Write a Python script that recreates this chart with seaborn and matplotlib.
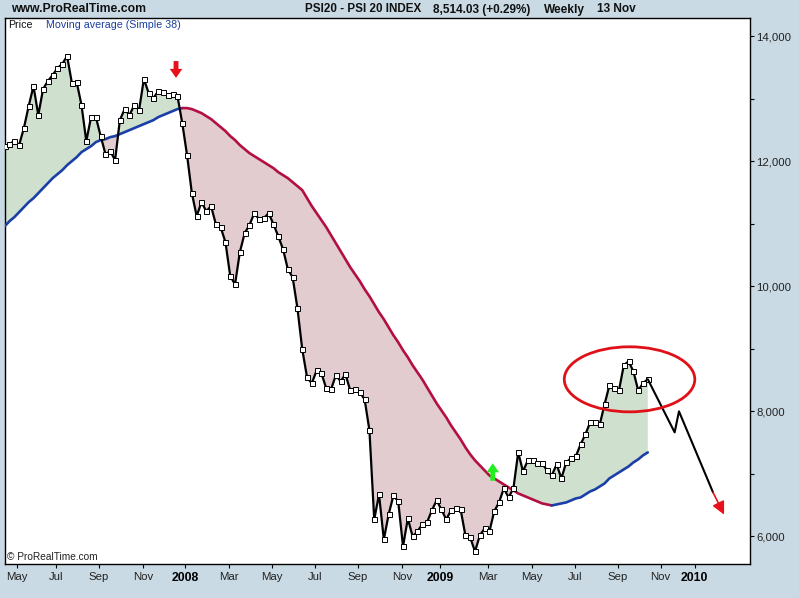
import numpy as np
import matplotlib
matplotlib.use('Agg')
import matplotlib.pyplot as plt
import seaborn as sns
from matplotlib.patches import Ellipse

# weekly closes
price = [12240, 12272, 12320, 12256, 12528, 12880, 13200, 12736, 13152, 13280,
         13376, 13488, 13552, 13680, 13248, 13264, 12896, 12320, 12704, 12704,
         12400, 12112, 12160, 12016, 12656, 12832, 12736, 12896, 12816, 13312,
         13088, 13008, 13120, 13104, 13056, 13072, 13040, 12608, 12096, 11488,
         11120, 11344, 11200, 11280, 10992, 10944, 10704, 10160, 10032, 10544,
         10848, 10976, 11168, 11072, 11088, 11168, 10992, 10800, 10592, 10272,
         10144, 9648, 8992, 8544, 8448, 8656, 8608, 8368, 8352, 8576,
         8480, 8592, 8336, 8352, 8304, 8192, 7696, 6272, 6672, 5952,
         6352, 6656, 6560, 5840, 6288, 6000, 6080, 6192, 6224, 6416,
         6576, 6432, 6272, 6416, 6448, 6432, 6016, 5984, 5760, 6016,
         6128, 6080, 6400, 6544, 6768, 6624, 6768, 7344, 7040, 7216,
         7216, 7168, 7168, 7056, 6976, 7152, 6928, 7184, 7248, 7280,
         7472, 7632, 7824, 7824, 7792, 8112, 8416, 8368, 8336, 8736,
         8800, 8640, 8336, 8448, 8514]

# simple 38 moving average
moving_avg = [10960, 11040, 11104, 11184, 11264, 11344, 11408, 11488, 11568, 11648,
              11728, 11792, 11856, 11936, 12000, 12064, 12144, 12192, 12240, 12304,
              12336, 12352, 12384, 12400, 12432, 12464, 12496, 12528, 12560, 12592,
              12624, 12656, 12704, 12736, 12768, 12800, 12832, 12848, 12848, 12832,
              12800, 12768, 12720, 12672, 12608, 12544, 12480, 12400, 12336, 12256,
              12192, 12128, 12080, 12032, 11984, 11936, 11888, 11824, 11776, 11728,
              11664, 11600, 11536, 11408, 11280, 11168, 11056, 10944, 10816, 10688,
              10560, 10432, 10304, 10192, 10080, 9952, 9840, 9712, 9584, 9472,
              9344, 9216, 9104, 8976, 8864, 8736, 8624, 8512, 8384, 8256,
              8128, 8016, 7904, 7776, 7664, 7552, 7424, 7312, 7216, 7136,
              7056, 6976, 6928, 6880, 6832, 6784, 6736, 6688, 6656, 6624,
              6592, 6560, 6528, 6512, 6496, 6512, 6528, 6544, 6576, 6608,
              6624, 6672, 6720, 6752, 6800, 6848, 6928, 6976, 7024, 7072,
              7120, 7184, 7232, 7296, 7344]

# hand drawn forecast after the last close
forecast_weeks = [134, 139.6, 140.5, 147.6]
forecast_vals = [8514, 7664, 8000, 6704]

tick_weeks = [2.6, 10.7, 19.6, 28.8, 37.6, 46.7, 55.7, 64.6, 73.6, 82.8, 90.7,
              100.7, 109.9, 118.8, 127.8, 136.7, 143.8]
tick_labels = ['May', 'Jul', 'Sep', 'Nov', '2008', 'Mar', 'May', 'Jul', 'Sep', 'Nov',
               '2009', 'Mar', 'May', 'Jul', 'Sep', 'Nov', '2010']
y_ticks = [14000, 12000, 10000, 8000, 6000]
y_minor = [13000, 11000, 9000, 7000]

BG = '#c9dae4'
GREEN = '#cfe0cf'
PINK = '#e2cccf'
BLUE = '#1a3fa8'
CRIMSON = '#b30f42'
FONT = 'Liberation Sans'

weeks = np.arange(len(price))
price = np.array(price, dtype=float)
moving_avg = np.array(moving_avg, dtype=float)

sns.set_style('white')
fig = plt.figure(figsize=(7.99, 5.98), dpi=100, facecolor=BG)
ax = fig.add_axes([4.5 / 799, 1 - 563.5 / 598, 745.5 / 799, 545.5 / 598], facecolor='white')

ax.fill_between(weeks, price, moving_avg, where=price >= moving_avg, interpolate=True,
                color=GREEN, linewidth=0, zorder=1)
ax.fill_between(weeks, price, moving_avg, where=price <= moving_avg, interpolate=True,
                color=PINK, linewidth=0, zorder=1)

# moving average changes colour with the signal
sns.lineplot(x=weeks[:38], y=moving_avg[:38], color=BLUE, linewidth=1.9, ax=ax, zorder=3)
sns.lineplot(x=weeks[37:115], y=moving_avg[37:115], color=CRIMSON, linewidth=1.9, ax=ax, zorder=3)
sns.lineplot(x=weeks[114:], y=moving_avg[114:], color=BLUE, linewidth=1.9, ax=ax, zorder=3)

sns.lineplot(x=weeks, y=price, color='black', linewidth=1.6, marker='s', markersize=3.6,
             markerfacecolor='white', markeredgecolor='black', markeredgewidth=0.7,
             ax=ax, zorder=4)

# drawn-on annotations
sns.lineplot(x=forecast_weeks, y=forecast_vals, color='black', linewidth=1.5, sort=False,
             ax=ax, zorder=5)
ax.annotate('', xy=(149.9, 6350), xytext=(147.6, 6704), zorder=5,
            arrowprops=dict(arrowstyle='-|>', color='#e8101c', lw=1.2, mutation_scale=19,
                            shrinkA=0, shrinkB=0))
ax.add_patch(Ellipse((130.2, 8512), 27.2, 1040, fill=False, edgecolor='#e01018',
                     linewidth=2.0, zorder=6))
ax.annotate('', xy=(35.7, 13330), xytext=(35.7, 13600), zorder=6,
            arrowprops=dict(width=3.5, headwidth=9, headlength=6.5, color='#e8101c', lw=0,
                            shrink=0))
ax.annotate('', xy=(101.7, 7170), xytext=(101.7, 6890), zorder=6,
            arrowprops=dict(width=3.5, headwidth=9, headlength=6.5, color='#22ee22', lw=0,
                            shrink=0))

ax.set_xlim(-0.04, 155.3)
ax.set_ylim(5568, 14288)
ax.set_xlabel('')
ax.set_ylabel('')

ax.set_xticks(tick_weeks)
ax.set_xticklabels(tick_labels, family=FONT, fontsize=8.2, color='#222222')
for lab in ax.get_xticklabels():
    if lab.get_text().startswith('20'):
        lab.set_fontweight('bold')
        lab.set_color('black')
        lab.set_fontsize(8.8)
ax.yaxis.tick_right()
ax.set_yticks(y_ticks)
ax.set_yticklabels([f'{v:,}' for v in y_ticks], family=FONT, fontsize=8.2, color='#222222')
ax.set_yticks(y_minor, minor=True)
ax.tick_params(axis='x', which='major', bottom=True, length=3, width=0.8, color='black', pad=3)
ax.tick_params(axis='y', which='both', right=True, length=3, width=0.8, color='black', pad=1.5)
for side in ax.spines.values():
    side.set_visible(True)
    side.set_color('black')
    side.set_linewidth(1.0)

# header strip and legend text
def px_text(x, y, s, **kw):
    fig.text(x / 799, 1 - y / 598, s, family=FONT, va='center', **kw)

px_text(11, 9.5, 'www.ProRealTime.com', fontsize=8.8, fontweight='bold', color='#111111')
px_text(305, 9.5, 'PSI20 - PSI 20 INDEX', fontsize=8.4, fontweight='bold', color='#111111')
px_text(433, 9.5, '8,514.03 (+0.29%)', fontsize=8.5, fontweight='bold', color='#111111')
px_text(544, 9.5, 'Weekly', fontsize=8.6, fontweight='bold', color='#111111')
px_text(597, 9.5, '13 Nov', fontsize=8.6, fontweight='bold', color='#111111')
px_text(8.5, 25, 'Price', fontsize=7.7, color='#111111')
px_text(46.5, 25, 'Moving average (Simple 38)', fontsize=7.7, color='#1a3fa0')
px_text(7, 557, '\u00a9 ProRealTime.com', fontsize=7.3, color='#222222')

fig.savefig('out.png', dpi=100, facecolor=BG)
